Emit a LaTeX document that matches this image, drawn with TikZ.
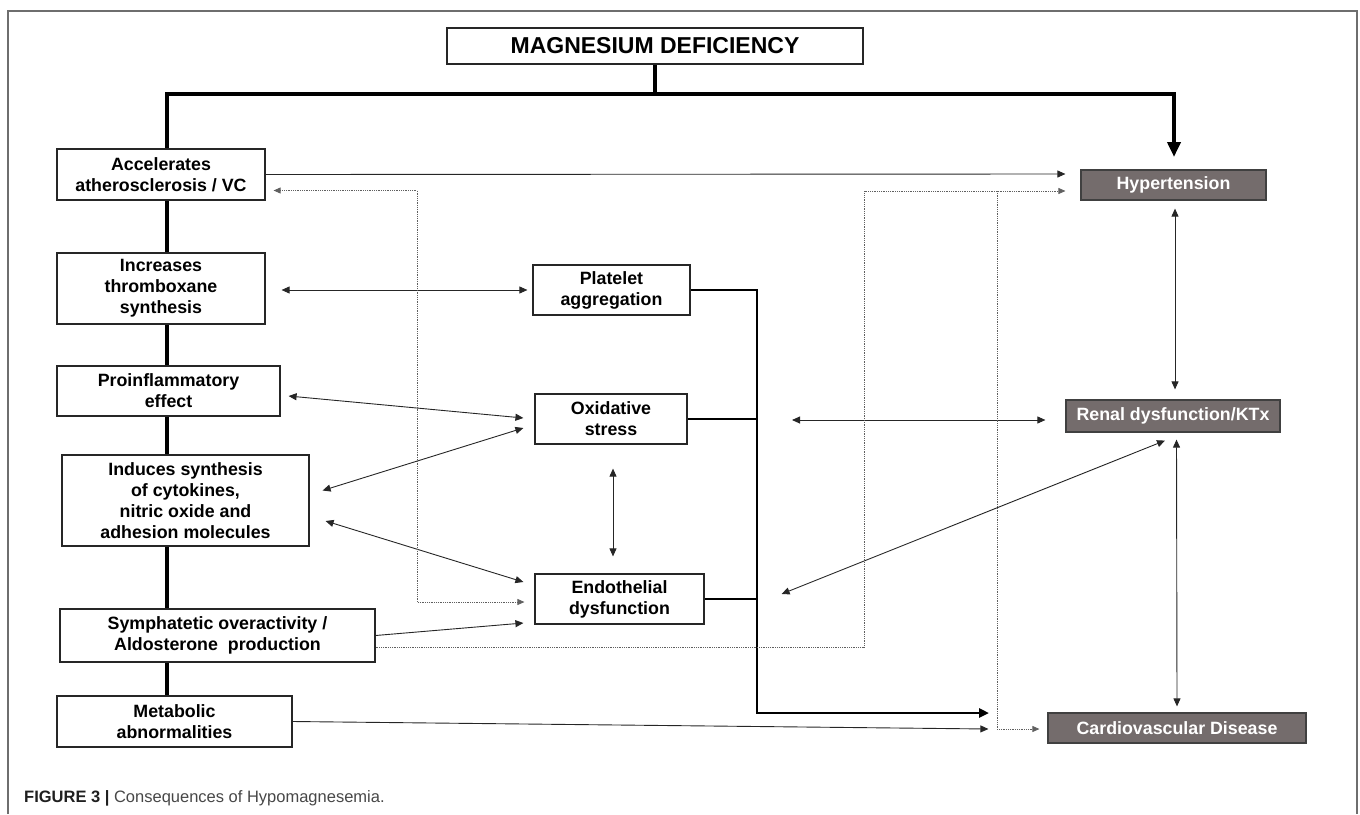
\documentclass[tikz,border=0pt]{standalone}
\usepackage{fontspec}
\setmainfont{Liberation Sans}
\usetikzlibrary{arrows.meta,backgrounds,calc}
\definecolor{boxgray}{RGB}{116,108,108}
\definecolor{framegray}{RGB}{110,110,110}
\definecolor{dotgray}{RGB}{95,95,95}
\begin{document}
\begin{tikzpicture}[x=1pt,y=-1pt,
 box/.style={draw=black!85, line width=1.2pt, fill=white, inner sep=0pt, align=center,
   font=\fontsize{17.8}{21}\selectfont\bfseries, text=black},
 dark/.style={draw=black!75, line width=1.2pt, fill=boxgray, inner sep=0pt,
   font=\fontsize{17.8}{21}\selectfont\bfseries, text=white},
 spine/.style={line width=4.5pt, black, line join=miter},
 branch/.style={line width=2.8pt, black, line join=miter},
 conn/.style={line width=0.9pt, black!85},
 both/.style={conn, {Triangle[length=8pt,width=7pt]}-{Triangle[length=8pt,width=7pt]}},
 one/.style={conn, -{Triangle[length=8pt,width=7pt]}},
 dots/.style={line width=0.8pt, dotgray, densely dotted},
 dboth/.style={dots, {Triangle[length=7pt,width=6pt]}-{Triangle[length=7pt,width=6pt]}},
 done/.style={dots, -{Triangle[length=7pt,width=6pt]}},
]
\useasboundingbox (0,0) rectangle (1360,814);
\draw[framegray, line width=1.3pt] (8,814) -- (8,11) -- (1357,11) -- (1357,814);

% nodes
\node[box, minimum width=416pt, minimum height=36pt, font=\fontsize{23}{26}\selectfont\bfseries] (mg) at (655,46) {MAGNESIUM DEFICIENCY};
\node[box, minimum width=208pt, minimum height=51pt] (acc) at (161,174.5) {Accelerates\\atherosclerosis / VC};
\node[box, minimum width=208pt, minimum height=71pt] (thr) at (161,288.5) {Increases\\thromboxane\\synthesis};
\node[box, minimum width=223pt, minimum height=50pt] (pro) at (168.5,391) {Proinflammatory\\effect};
\node[box, minimum width=247pt, minimum height=91pt] (ind) at (185.5,500.5) {Induces synthesis\\of cytokines,\\nitric oxide and\\adhesion molecules};
\node[box, minimum width=315pt, minimum height=53pt] (sym) at (217.5,635.5) {Symphatetic overactivity /\\Aldosterone\ \ production};
\node[box, minimum width=235pt, minimum height=51pt] (met) at (174.5,721.5) {Metabolic\\abnormalities};
\node[box, minimum width=157pt, minimum height=50pt] (pla) at (611.5,290) {Platelet\\aggregation};
\node[box, minimum width=152pt, minimum height=50pt] (oxi) at (611,419) {Oxidative\\stress};
\node[box, minimum width=169pt, minimum height=50pt] (end) at (619.5,599) {Endothelial\\dysfunction};
\node[dark, minimum width=185pt, minimum height=30pt] (hyp) at (1173.5,185) {Hypertension};
\node[dark, minimum width=214pt, minimum height=32pt] (ren) at (1173,416) {Renal dysfunction/KTx};
\node[dark, minimum width=258pt, minimum height=30pt] (cvd) at (1177,728) {Cardiovascular Disease};

\node[anchor=base west, inner sep=0pt, font=\fontsize{16.5}{18}\selectfont] (cap) at (24,802)
  {\textcolor{black!88}{\bfseries FIGURE 3 |} \textcolor{black!72}{Consequences of Hypomagnesemia.}};

\coordinate (jl) at (167,94);
\coordinate (jt) at (655,94);
\coordinate (jr) at (1174,94);
\coordinate (htip) at (1174,157);
\coordinate (bx) at (757,0);
\coordinate (ctip) at (989,713);
\coordinate (rx) at (792,420);
\coordinate (dv1) at (417,400);
\coordinate (dv2) at (864,400);
\coordinate (dv3) at (997,191);

\begin{pgfonlayer}{background}
% main spine
\draw[spine] (mg.south) -- (jt);
\draw[spine, -{Triangle[length=15pt,width=13pt]}] (jl |- met.north) -- (jl) -- (jr) -- (htip);
% right bracket
\draw[branch, -{Triangle[length=10pt,width=9pt]}] (pla.east) -- (pla.east -| bx) -- (bx |- ctip) -- (ctip);
\draw[branch] (oxi.east) -- (oxi.east -| bx);
\draw[branch] (end.east) -- (end.east -| bx);

% thin connectors
\draw[one] (acc.east) -- ([xshift=-15pt,yshift=11pt]hyp.west);
\draw[both] ([xshift=16pt,yshift=-1.5pt]thr.east) -- ([xshift=-5pt]pla.west);
\draw[both] ([xshift=8pt,yshift=-5pt]pro.east) -- ([xshift=-11pt,yshift=1pt]oxi.west);
\draw[both] ([xshift=13pt,yshift=10pt]ind.east) -- ([xshift=-11pt,yshift=-9pt]oxi.west);
\draw[both] ([xshift=16pt,yshift=-20.5pt]ind.east) -- ([xshift=-11pt,yshift=17pt]end.west);
\draw[both] ([xshift=2pt,yshift=-24pt]oxi.south) -- ([xshift=-6.5pt,yshift=17pt]end.north);
\draw[one] (sym.east) -- ([xshift=-11pt,yshift=-24pt]end.west);
\draw[one] (met.east) -- ([xshift=-59pt,yshift=-1pt]cvd.west);
\draw[both] (rx) -- ([xshift=-20pt,yshift=-4pt]ren.west);
\draw[both] ([xshift=-8pt,yshift=-8pt]ren.south) -- ([xshift=77pt,yshift=5pt]end.east);
\draw[both] ([xshift=1.5pt,yshift=-8pt]hyp.south) -- ([xshift=2pt,yshift=10pt]ren.north);
\draw[both] ([xshift=3.5pt,yshift=-7pt]ren.south) -- ([yshift=6pt]cvd.north);

% dotted connectors
\draw[dboth] ([xshift=8pt,yshift=-16pt]acc.east) -| (dv1) |- ([xshift=-10pt,yshift=-3pt]end.west);
\draw[done] ([yshift=-11.5pt]sym.east) -| (dv2) |- ([xshift=-15pt,yshift=-6pt]hyp.west);
\draw[done] (dv3) |- ([xshift=-8pt,yshift=-1pt]cvd.west);
\end{pgfonlayer}
\end{tikzpicture}
\end{document}
